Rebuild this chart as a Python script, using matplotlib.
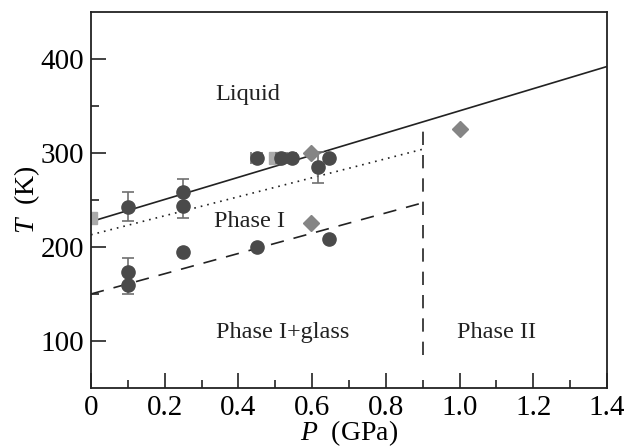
import matplotlib
matplotlib.use("Agg")
import matplotlib.pyplot as plt
import numpy as np

plt.rcParams['font.family'] = ['Liberation Serif']
plt.rcParams['mathtext.fontset'] = 'custom'
plt.rcParams['mathtext.it'] = 'Liberation Serif:italic'
plt.rcParams['mathtext.rm'] = 'Liberation Serif'

# Circles (dark)
circ_P = [0.1, 0.1, 0.1, 0.25, 0.25, 0.25, 0.45, 0.45, 0.515, 0.545, 0.617, 0.647, 0.647]
circ_T = [243, 173, 160, 258, 244, 195, 295, 200, 295, 295, 285, 295, 209]
circ_yerr_lo = [15, 0, 10, 0, 13, 0, 0, 0, 0, 0, 17, 0, 0]
circ_yerr_hi = [15, 15, 0, 14, 0, 0, 0, 0, 0, 0, 16, 0, 0]
circ_xerr = [0, 0, 0, 0, 0, 0, 0.015, 0, 0.012, 0.012, 0, 0, 0]

# Diamonds (mid gray)
dia_P = [0.598, 0.598, 1.002]
dia_T = [300, 225, 325]

# Squares (light gray)
sq_P = [0.0, 0.498]
sq_T = [231, 295]

# Boundary lines
melt_P = [0.0, 1.4]
melt_T = [227, 392]
dot_P = [0.0, 0.9]
dot_T = [213, 304]
dash_P = [0.0, 0.9]
dash_T = [150, 247]
vert_P = [0.9, 0.9]
vert_T = [85, 333]

fig = plt.figure(figsize=(6.24, 4.47), dpi=100)
ax = fig.add_axes([0.1458, 0.132, 0.827, 0.8412])

ax.plot(melt_P, melt_T, color='#222222', lw=1.2, ls='-')
ax.plot(dot_P, dot_T, color='#222222', lw=1.2, ls=(0, (1, 3)))
ax.plot(dash_P, dash_T, color='#222222', lw=1.2, ls=(0, (8, 6)))
ax.plot(vert_P, vert_T, color='#222222', lw=1.2, ls=(0, (8, 6)))

ax.errorbar(circ_P, circ_T, yerr=[circ_yerr_lo, circ_yerr_hi], xerr=circ_xerr,
            fmt='o', color='#4a4a4a', ms=9.5, ecolor='#707070', elinewidth=1.2,
            capsize=4, capthick=1.2, zorder=3)
ax.plot(dia_P, dia_T, 'D', color='#858585', ms=8, zorder=4, clip_on=True)
ax.plot(sq_P, sq_T, 's', color='#aaaaaa', ms=8, zorder=2, clip_on=True)

tfs = 17.5
ax.text(0.425, 362, 'Liquid', fontsize=tfs, ha='center', va='center', color='#222222')
ax.text(0.43, 227, 'Phase I', fontsize=tfs, ha='center', va='center', color='#222222')
ax.text(0.52, 109, 'Phase I+glass', fontsize=tfs, ha='center', va='center', color='#222222')
ax.text(1.1, 109, 'Phase II', fontsize=tfs, ha='center', va='center', color='#222222')

ax.set_xlim(0, 1.4)
ax.set_ylim(50, 450)
ax.set_xticks(np.arange(0, 1.41, 0.2))
ax.set_xticklabels(['0', '0.2', '0.4', '0.6', '0.8', '1.0', '1.2', '1.4'])
ax.set_xticks(np.arange(0.1, 1.4, 0.2), minor=True)
ax.set_yticks([100, 200, 300, 400])
ax.set_yticks([150, 250, 350], minor=True)
ax.tick_params(which='both', direction='in', labelsize=21, top=False, right=False, color='#222222')
ax.tick_params(which='major', length=11, width=1.2, pad=5)
ax.tick_params(which='minor', length=6, width=1.2)
for s in ax.spines.values():
    s.set_linewidth(1.3)
    s.set_color('#222222')

ax.set_xlabel('$P$  (GPa)', fontsize=20, labelpad=-2)
ax.set_ylabel('$T$  (K)', fontsize=20, labelpad=-1)

fig.savefig('out.png', dpi=100)
